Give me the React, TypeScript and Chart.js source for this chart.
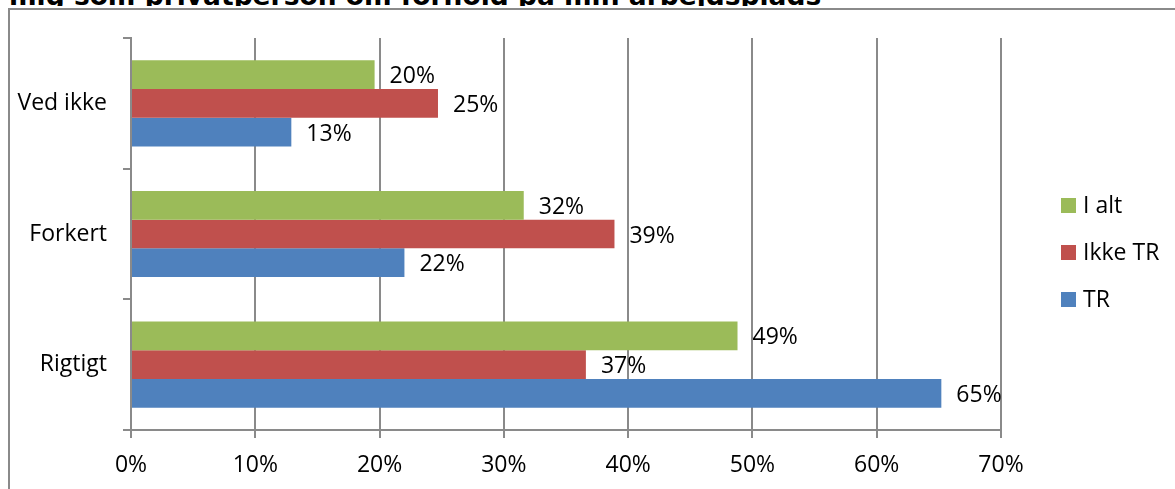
import React, { useEffect, useRef } from "react";
import { Chart, registerables } from "chart.js";

Chart.register(...registerables);

const titleText = "mig som privatperson om forhold på min arbejdsplads";
const categories = ["Ved ikke", "Forkert", "Rigtigt"];
const seriesNames = ["I alt", "Ikke TR", "TR"];
const iAlt = [19.6, 31.6, 48.8];
const ikkeTR = [24.7, 38.9, 36.6];
const tr = [12.9, 22.0, 65.2];
const seriesColors = ["#9BBB59", "#C0504D", "#4F81BD"];
const xTicks = [0, 10, 20, 30, 40, 50, 60, 70];

const FONT = "'Open Sans', sans-serif";
const FONT_SIZE = 23;
const GRID = "#8a8a8a";

export default function App() {
  const ref = useRef<HTMLCanvasElement | null>(null);

  useEffect(() => {
    const canvas = ref.current;
    if (!canvas) return;

    const dataLabels = {
      id: "dataLabels",
      afterDatasetsDraw(chart: any) {
        const ctx = chart.ctx;
        ctx.save();
        ctx.font = `${FONT_SIZE}px ${FONT}`;
        ctx.fillStyle = "#000";
        ctx.textAlign = "left";
        ctx.textBaseline = "middle";
        chart.data.datasets.forEach((ds: any, i: number) => {
          const meta = chart.getDatasetMeta(i);
          meta.data.forEach((bar: any, j: number) => {
            ctx.fillText(Math.round(ds.data[j]) + "%", bar.x + 15, bar.y + 2);
          });
        });
        ctx.restore();
      },
    };

    const legendPlugin = {
      id: "customLegend",
      afterDraw(chart: any) {
        const ctx = chart.ctx;
        ctx.save();
        ctx.font = `${FONT_SIZE}px ${FONT}`;
        ctx.textAlign = "left";
        ctx.textBaseline = "middle";
        const centers = [205, 252, 299];
        chart.data.datasets.forEach((ds: any, i: number) => {
          const cy = centers[i];
          ctx.fillStyle = ds.backgroundColor;
          ctx.fillRect(1061, cy - 7, 15, 15);
          ctx.fillStyle = "#000";
          ctx.fillText(ds.label, 1083, cy + 1);
        });
        ctx.restore();
      },
    };

    const chart = new Chart(canvas, {
      type: "bar",
      data: {
        labels: categories,
        datasets: [
          { label: seriesNames[0], data: iAlt, backgroundColor: seriesColors[0] },
          { label: seriesNames[1], data: ikkeTR, backgroundColor: seriesColors[1] },
          { label: seriesNames[2], data: tr, backgroundColor: seriesColors[2] },
        ],
      },
      options: {
        indexAxis: "y",
        animation: false,
        responsive: false,
        maintainAspectRatio: false,
        datasets: {
          bar: { categoryPercentage: 0.66, barPercentage: 1.0 },
        },
        layout: { padding: { top: 38, right: 174, left: 0, bottom: 0 } },
        plugins: {
          legend: { display: false },
          tooltip: { enabled: false },
          title: { display: false },
        },
        scales: {
          x: {
            min: 0,
            max: 70,
            afterBuildTicks(scale: any) {
              scale.ticks = xTicks.map((v) => ({ value: v }));
            },
            afterFit(scale: any) {
              scale.height = 59;
            },
            ticks: {
              callback: (v: any) => v + "%",
              color: "#000",
              font: { family: FONT, size: FONT_SIZE },
              padding: 14,
              maxRotation: 0,
            },
            grid: {
              color: GRID,
              lineWidth: 2,
              tickLength: 8,
              drawTicks: true,
            },
            border: { display: true, color: GRID, width: 2 },
          },
          y: {
            afterFit(scale: any) {
              scale.width = 131;
            },
            ticks: {
              color: "#000",
              font: { family: FONT, size: FONT_SIZE },
              padding: 16,
            },
            grid: {
              offset: true,
              drawOnChartArea: false,
              drawTicks: true,
              tickLength: 8,
              color: GRID,
              lineWidth: 2,
            },
            border: { display: true, color: GRID, width: 2 },
          },
        },
      },
      plugins: [dataLabels, legendPlugin],
    });

    return () => chart.destroy();
  }, []);

  return (
    <div
      style={{
        position: "fixed",
        left: 0,
        top: 0,
        width: 1175,
        height: 489,
        overflow: "hidden",
        background: "#fff",
      }}
    >
      <div
        style={{
          position: "absolute",
          left: 0,
          top: 0,
          width: 1175,
          height: 6,
          overflow: "hidden",
        }}
      >
        <div
          style={{
            position: "absolute",
            left: 9,
            top: -17,
            whiteSpace: "nowrap",
            fontFamily: "'DejaVu Sans', sans-serif",
            fontWeight: "bold",
            fontSize: 26.5,
            lineHeight: "26.5px",
            color: "#000",
          }}
        >
          {titleText}
        </div>
      </div>
      <div
        style={{
          position: "absolute",
          left: 8,
          top: 8,
          width: 1300,
          height: 700,
          borderLeft: "2px solid #8a8a8a",
          borderTop: "2px solid #8a8a8a",
          boxSizing: "border-box",
        }}
      />
      <canvas
        ref={ref}
        width={1175}
        height={489}
        style={{ position: "absolute", left: 0, top: 0, width: 1175, height: 489 }}
      />
    </div>
  );
}
